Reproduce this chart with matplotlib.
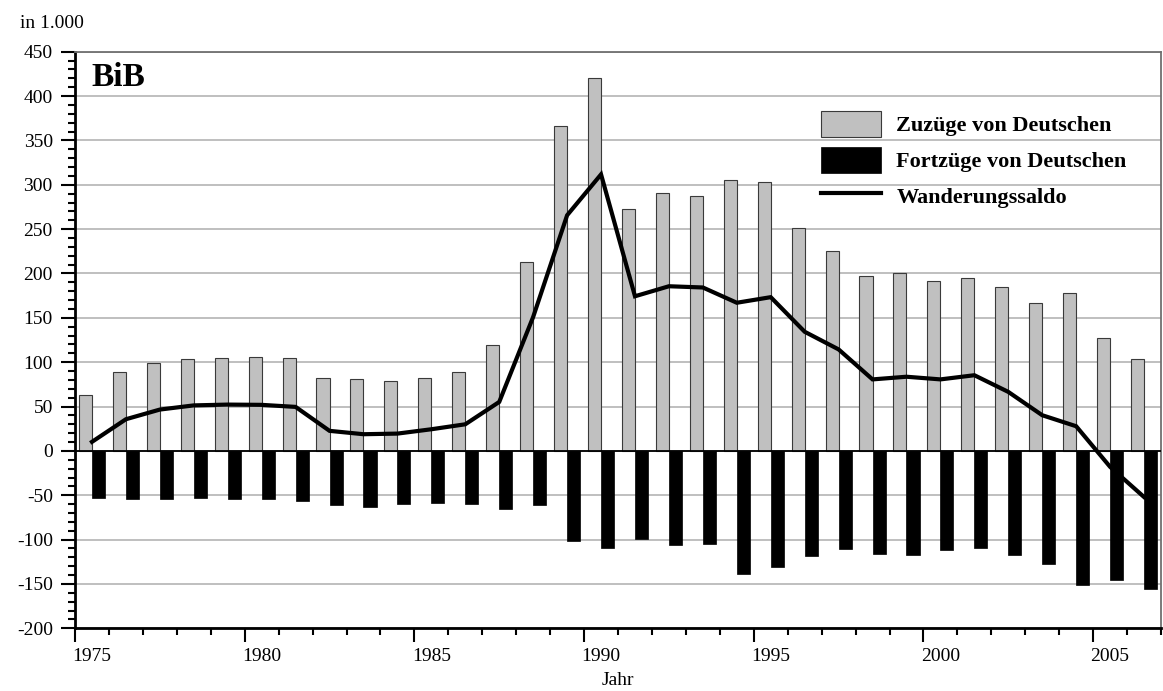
import numpy as np
import matplotlib
matplotlib.use("Agg")
import matplotlib.pyplot as plt
from matplotlib.ticker import MultipleLocator
import matplotlib.transforms as mtrans

plt.rcParams['font.family'] = ['Liberation Serif', 'DejaVu Serif']
plt.rcParams['axes.unicode_minus'] = False

# Daten (in 1.000)
jahre = list(range(1975, 2007))
zuzuege = [63.5, 88.7, 99.6, 104, 105, 106, 105, 82.7, 81.2, 79.3,
           82.6, 88.7, 119.5, 213.4, 366.6, 420.0, 273.1, 290.5, 287.7, 305.0,
           303.0, 251.7, 225.4, 196.9, 200.0, 192.0, 194.5, 184.3, 166.9, 178.5,
           127.8, 103.4]
fortzuege = [-53.0, -54.1, -54.1, -53.4, -53.8, -54.1, -56.0, -60.9, -63.2, -60.2,
             -59.0, -59.8, -65.4, -61.3, -101.9, -109.2, -99.4, -105.8, -105.0, -138.4,
             -130.9, -118.9, -110.3, -116.6, -117.0, -111.4, -109.9, -117.8, -127.5, -150.8,
             -145.1, -155.3]
saldo = [10.2, 35.7, 46.6, 51.3, 52.2, 51.9, 49.6, 22.6, 18.8, 19.5,
         24.4, 30.0, 55.2, 151.0, 265.6, 311.7, 174.3, 185.6, 184.2, 167.0,
         173.3, 134.3, 114.4, 80.6, 83.6, 80.6, 85.3, 66.5, 40.2, 27.8,
         -18.0, -52.0]

n = len(jahre)
mitte = np.arange(n) + 0.5
breite = 0.385

fig = plt.figure(figsize=(11.63, 6.91), dpi=100)
ax = fig.add_axes([0.0645, 0.0907, 0.9338, 0.8345])

ax.set_axisbelow(True)
ax.yaxis.grid(True, color='#b4b4b4', lw=1.2)

b1 = ax.bar(mitte - breite / 2, zuzuege, width=breite, color='#c0c0c0',
            edgecolor='#3a3a3a', lw=0.8, label='Zuzüge von Deutschen', zorder=2)
b2 = ax.bar(mitte + breite / 2, fortzuege, width=breite, color='black',
            edgecolor='black', lw=0.5, label='Fortzüge von Deutschen', zorder=2)
ax.axhline(0, color='black', lw=1.3, zorder=3)
l1, = ax.plot(mitte, saldo, color='black', lw=3, solid_joinstyle='miter',
              label='Wanderungssaldo', zorder=4)

ax.set_xlim(0, n)
ax.set_ylim(-200, 450)
ax.yaxis.set_major_locator(MultipleLocator(50))
ax.yaxis.set_minor_locator(MultipleLocator(10))
ax.set_xticks(np.arange(0, n, 5))
ax.set_xticklabels([str(j) for j in jahre[::5]])
ax.xaxis.set_minor_locator(MultipleLocator(1))

ax.tick_params(axis='both', which='major', direction='out', length=10,
               width=1.5, labelsize=14, color='black')
ax.tick_params(axis='both', which='minor', direction='out', length=5,
               width=1.5, color='black')
ax.tick_params(axis='y', which='major', pad=6)
ax.tick_params(axis='x', which='major', pad=4)

# Jahreszahlen mittig unter die Kategorie schieben
dx = fig.get_figwidth() * 0.9338 / n / 2
versatz = mtrans.ScaledTranslation(dx, 0, fig.dpi_scale_trans)
for lab in ax.get_xticklabels():
    lab.set_transform(lab.get_transform() + versatz)

for s in ['left', 'bottom']:
    ax.spines[s].set_color('black')
    ax.spines[s].set_linewidth(2)
for s in ['top', 'right']:
    ax.spines[s].set_color('#707070')
    ax.spines[s].set_linewidth(1.3)

ax.set_xlabel('Jahr', fontsize=14, labelpad=5)
fig.text(0.0172, 0.9595, 'in 1.000', fontsize=14, va='baseline')
ax.text(0.0147, 0.94, 'BiB', transform=ax.transAxes, fontsize=24,
        fontweight='bold', va='baseline')

ax.legend([b1, b2, l1], ['Zuzüge von Deutschen', 'Fortzüge von Deutschen', 'Wanderungssaldo'],
          loc='upper left', bbox_to_anchor=(0.687, 0.897), frameon=False,
          prop={'size': 16, 'weight': 'bold'}, handlelength=2.7,
          handleheight=1.42, handletextpad=0.68, labelspacing=0.45,
          borderpad=0, borderaxespad=0)

fig.savefig('out.png', dpi=100)
